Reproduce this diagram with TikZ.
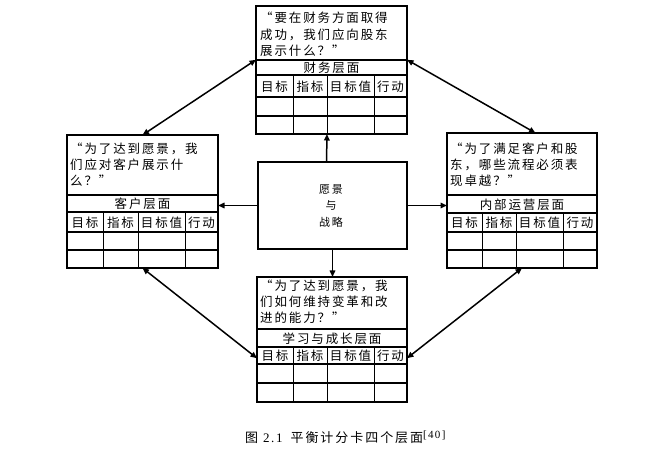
\documentclass[tikz,border=0pt]{standalone}
\usepackage{fontspec}
\setmainfont{Noto Sans CJK SC}[LetterSpace=15]
\newfontfamily\latinserif{Liberation Serif}[LetterSpace=12]
\usetikzlibrary{arrows.meta,calc}
\tikzset{
  box/.style={draw, line width=1.2pt, anchor=north west, inner sep=0pt, outer sep=0pt},
  hline/.style={line width=1.5pt},
  vline/.style={line width=1pt},
  qt/.style={anchor=west, inner sep=0pt, font=\fontsize{12.5}{15}\selectfont},
  ct/.style={anchor=center, inner sep=0pt, font=\fontsize{12.5}{15}\selectfont},
  arr/.style={line width=1.5pt, -{Triangle[length=6.5pt,width=5.5pt]}},
  darr/.style={line width=1.5pt, {Triangle[length=6.5pt,width=5.5pt]}-{Triangle[length=6.5pt,width=5.5pt]}},
}
\newcommand\hdrrow[7]{%
  \node[ct] (#1a) at ({(#2+#3)/2},#7) {目标};
  \node[ct] (#1b) at ({(#3+#4)/2},#7) {指标};
  \node[ct] (#1c) at ({(#4+#5)/2},#7) {目标值};
  \node[ct] (#1d) at ({(#5+#6)/2},#7) {行动};
}
\begin{document}
\begin{tikzpicture}[x=1pt,y=-1pt]
\useasboundingbox[fill=white] (0,0) rectangle (667,449);

% boxes
\node[box, minimum width=151pt, minimum height=128pt] (fin) at (256,6) {};
\node[box, minimum width=151pt, minimum height=133pt] (cus) at (67,135) {};
\node[box, minimum width=150pt, minimum height=135pt] (int) at (447,133) {};
\node[box, minimum width=150pt, minimum height=125pt] (lrn) at (257,277) {};
\node[box, minimum width=149pt, minimum height=87pt] (ctr) at (258,162) {};

% finance table
\foreach \y in {60,75,97,116} \draw[hline] (256,\y) -- (407,\y);
\foreach \x in {293,327,374} \draw[vline] (\x,75) -- (\x,134);
\node[qt] (fq1) at (260,18) {“要在财务方面取得};
\node[qt] (fq2) at (260,35) {成功，我们应向股东};
\node[qt] (fq3) at (260,51) {展示什么？”};
\node[ct] (ft) at (331.5,68) {财务层面};
\hdrrow{fh}{256}{293}{327}{374}{407}{86.5}

% customer table
\foreach \y in {195,212,232,250} \draw[hline] (67,\y) -- (218,\y);
\foreach \x in {103,138,185} \draw[vline] (\x,212) -- (\x,268);
\node[qt] (cq1) at (70,149) {“为了达到愿景，我};
\node[qt] (cq2) at (70,165) {们应对客户展示什};
\node[qt] (cq3) at (70,181) {么？”};
\node[ct] (ctt) at (142.5,204) {客户层面};
\hdrrow{ch}{67}{103}{138}{185}{218}{222.5}

% internal table
\foreach \y in {195,213,232,250} \draw[hline] (447,\y) -- (597,\y);
\foreach \x in {482,516,563} \draw[vline] (\x,213) -- (\x,268);
\node[qt] (iq1) at (450,149) {“为了满足客户和股};
\node[qt] (iq2) at (450,165) {东，哪些流程必须表};
\node[qt] (iq3) at (450,181) {现卓越？”};
\node[ct] (itt) at (522,204.5) {内部运营层面};
\hdrrow{ih}{447}{482}{516}{563}{597}{223}

% learning table
\foreach \y in {329,347,364,383} \draw[hline] (257,\y) -- (407,\y);
\foreach \x in {293,327,374} \draw[vline] (\x,347) -- (\x,402);
\node[qt] (lq1) at (260,286) {“为了达到愿景，我};
\node[qt] (lq2) at (260,302) {们如何维持变革和改};
\node[qt] (lq3) at (260,318) {进的能力？”};
\node[ct] (ltt) at (332,338.5) {学习与成长层面};
\hdrrow{lh}{257}{293}{327}{374}{407}{356}

% center text
\node[align=center, inner sep=0pt, font=\fontsize{11}{16.5}\selectfont] (ctrt) at (331,206) {愿景\\与\\战略};

% center arrows
\draw[arr] ($(ctr.north west)!0.46!(ctr.north east)$) -- ($(fin.south west)!0.47!(fin.south east)$);
\draw[arr] (ctr.south) -- (ctr.south |- lrn.north);
\draw[arr] (ctr.west) -- (ctr.west -| cus.east);
\draw[arr] (ctr.east) -- (ctr.east -| int.west);

% diagonal arrows
\draw[darr] ($(fin.north west)!0.42!(fin.south west)$) -- (cus.north);
\draw[darr] ($(fin.north east)!0.42!(fin.south east)$) -- ($(int.north west)!0.59!(int.north east)$);
\draw[darr] (cus.south) -- ($(lrn.north west)!0.65!(lrn.south west)$);
\draw[darr] (int.south) -- ($(lrn.north east)!0.65!(lrn.south east)$);

% caption
\node[anchor=west, inner sep=0pt, font=\fontsize{13}{15}\selectfont] (cap) at (245,437)
  {图\hspace{5pt}{\latinserif 2.1}\hspace{8pt}平衡计分卡四个层面\raisebox{4pt}{\fontsize{11}{12}\selectfont\latinserif [40]}};
\end{tikzpicture}
\end{document}
